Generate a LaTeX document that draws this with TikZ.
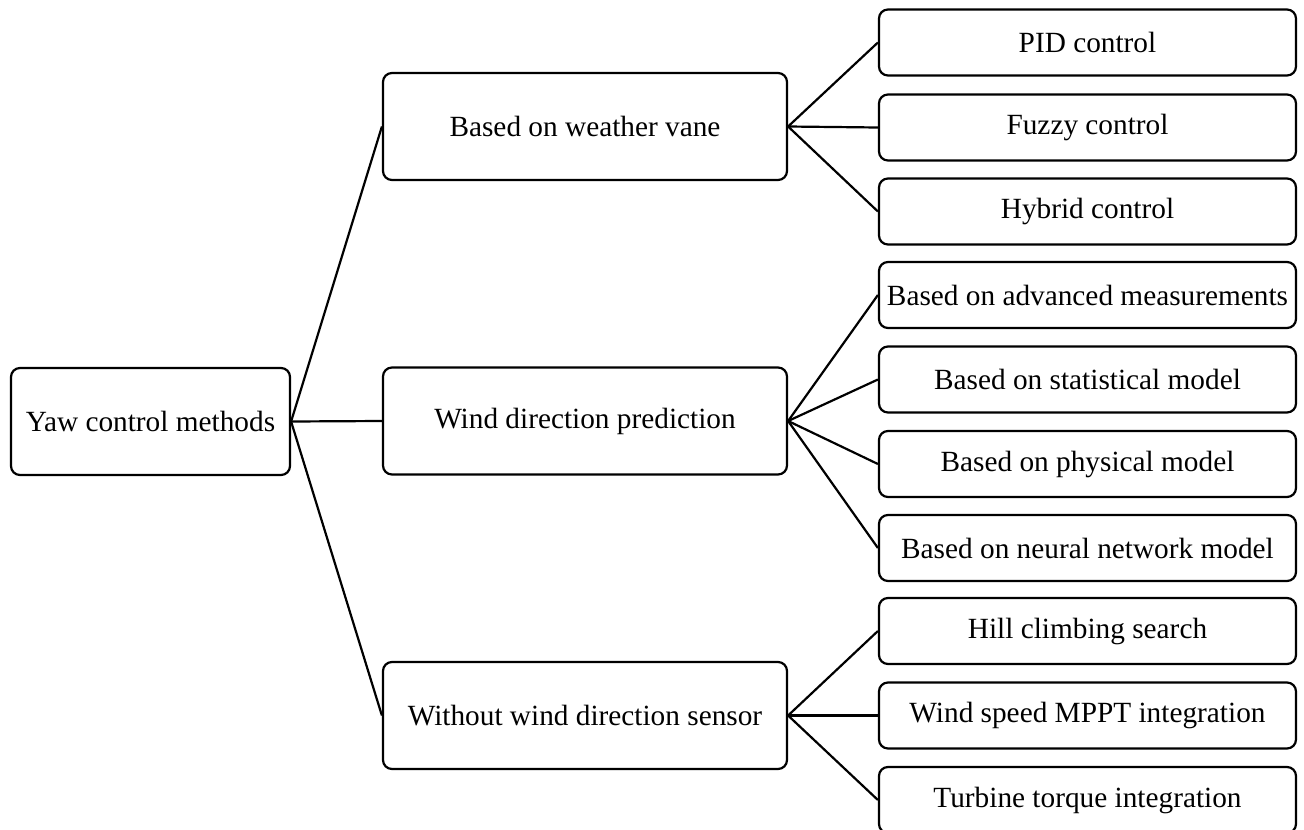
\documentclass[tikz,border=0pt]{standalone}
\usepackage{fontspec}
\setmainfont{Liberation Serif}
\begin{document}
\begin{tikzpicture}[x=1pt,y=-1pt,
  box/.style={draw, line width=2.2pt, rounded corners=9pt, inner sep=0pt,
    align=center, font=\fontsize{29.3}{34}\selectfont},
  rootbox/.style={box, minimum width=279pt, minimum height=107pt},
  midbox/.style={box, minimum width=404pt, minimum height=107pt},
  leafbox/.style={box, minimum width=417pt, minimum height=66pt},
  link/.style={line width=2.2pt}]
\useasboundingbox (0,0) rectangle (1304,830);

% root
\node[rootbox] (root) at (150.5,421.5) {Yaw control methods};

% second level
\node[midbox] (vane) at (585,126.5) {Based on weather vane};
\node[midbox] (pred) at (585,421) {Wind direction prediction};
\node[midbox] (nosens) at (585,715.5) {Without wind direction sensor};

% third level
\node[leafbox] (pid) at (1087.5,42.5) {PID control};
\node[leafbox] (fuzzy) at (1087.5,127.5) {Fuzzy control};
\node[leafbox] (hybrid) at (1087.5,211.5) {Hybrid control};
\node[leafbox] (adv) at (1087.5,295) {Based on advanced measurements};
\node[leafbox] (stat) at (1087.5,379.5) {Based on statistical model};
\node[leafbox] (phys) at (1087.5,464) {Based on physical model};
\node[leafbox] (neural) at (1087.5,548) {Based on neural network model};
\node[leafbox] (hill) at (1087.5,631) {Hill climbing search};
\node[leafbox] (mppt) at (1087.5,715.5) {Wind speed MPPT integration};
\node[leafbox] (torque) at (1087.5,800) {Turbine torque integration};

% connectors
\foreach \c in {vane,pred,nosens}
  \draw[link] (root.east) -- (\c.west);
\foreach \c in {pid,fuzzy,hybrid}
  \draw[link] (vane.east) -- (\c.west);
\foreach \c in {adv,stat,phys,neural}
  \draw[link] (pred.east) -- (\c.west);
\foreach \c in {hill,mppt,torque}
  \draw[link] (nosens.east) -- (\c.west);
\end{tikzpicture}
\end{document}
